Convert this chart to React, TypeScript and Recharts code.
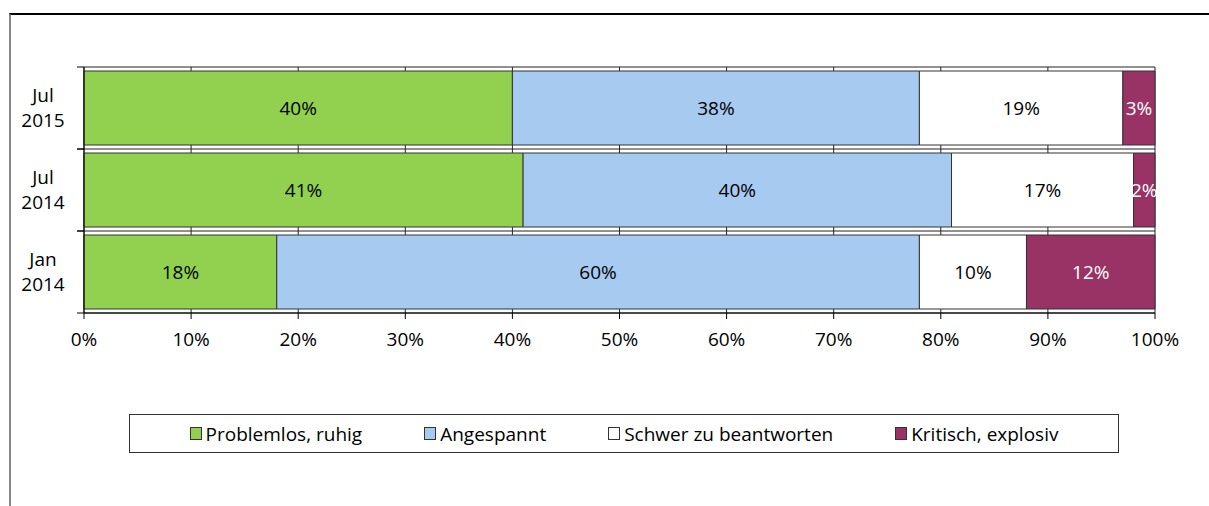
import React from 'react';
import {
  BarChart,
  Bar,
  XAxis,
  YAxis,
  CartesianGrid,
  Legend,
  LabelList,
} from 'recharts';

const categories = ['Jul 2015', 'Jul 2014', 'Jan 2014'];
const problemlos = [40, 41, 18];
const angespannt = [38, 40, 60];
const schwer = [19, 17, 10];
const kritisch = [3, 2, 12];
const xTicks = [0, 10, 20, 30, 40, 50, 60, 70, 80, 90, 100];

const series = [
  { key: 'problemlos', name: 'Problemlos, ruhig', fill: '#92D050', label: '#000' },
  { key: 'angespannt', name: 'Angespannt', fill: '#A6CAF0', label: '#000' },
  { key: 'schwer', name: 'Schwer zu beantworten', fill: '#FFFFFF', label: '#000' },
  { key: 'kritisch', name: 'Kritisch, explosiv', fill: '#993366', label: '#FFF' },
];

const data = categories.map((category, i) => ({
  category,
  problemlos: problemlos[i],
  angespannt: angespannt[i],
  schwer: schwer[i],
  kritisch: kritisch[i],
}));

const FONT = "'Open Sans', sans-serif";
const FS = 19;
const WIDTH = 1209;
const HEIGHT = 506;
const MARGIN = { top: 67, right: 54, left: 0, bottom: 53 };
const Y_AXIS_W = 84;
const X_AXIS_H = 101;
const LEGEND_H = 39;
const PLOT_LEFT = MARGIN.left + Y_AXIS_W;
const PLOT_H = HEIGHT - MARGIN.top - MARGIN.bottom - LEGEND_H - X_AXIS_H;
const BAND = PLOT_H / categories.length;

const CategoryTick = (props: any) => {
  const { y, payload } = props;
  const [line1, line2] = String(payload.value).split(' ');
  const cx = PLOT_LEFT / 2 + 1;
  return (
    <g>
      <line x1={PLOT_LEFT - 7} x2={PLOT_LEFT} y1={y - BAND / 2} y2={y - BAND / 2} stroke="#000" />
      <line x1={PLOT_LEFT - 7} x2={PLOT_LEFT} y1={y + BAND / 2} y2={y + BAND / 2} stroke="#000" />
      <text x={cx} y={y - 6} textAnchor="middle" fontSize={FS} fontFamily={FONT} fill="#000">
        {line1}
      </text>
      <text x={cx} y={y + 19} textAnchor="middle" fontSize={FS} fontFamily={FONT} fill="#000">
        {line2}
      </text>
    </g>
  );
};

const LegendBox = () => (
  <div
    style={{
      boxSizing: 'border-box',
      height: LEGEND_H,
      width: 990,
      border: '1px solid #333',
      display: 'flex',
      alignItems: 'center',
      justifyContent: 'center',
      gap: 62,
      fontFamily: FONT,
      fontSize: FS,
      color: '#000',
      background: '#fff',
    }}
  >
    {series.map((s) => (
      <div key={s.key} style={{ display: 'flex', alignItems: 'center' }}>
        <span
          style={{
            display: 'inline-block',
            width: 10,
            height: 11,
            background: s.fill,
            border: '1px solid #333',
            marginRight: 4,
          }}
        />
        <span>{s.name}</span>
      </div>
    ))}
  </div>
);

export default function App() {
  return (
    <div style={{ position: 'absolute', top: 0, left: 0, width: WIDTH, height: HEIGHT, background: '#fff' }}>
      <div
        style={{
          position: 'absolute',
          top: 13,
          left: 9,
          width: WIDTH - 9,
          height: HEIGHT - 13,
          boxSizing: 'border-box',
          borderTop: '2px solid #000',
          borderLeft: '2px solid #888',
        }}
      />
      <div style={{ position: 'absolute', top: 0, left: 0 }}>
        <BarChart
          width={WIDTH}
          height={HEIGHT}
          data={data}
          layout="vertical"
          margin={MARGIN}
          barCategoryGap={4}
          style={{ fontFamily: FONT }}
        >
          <CartesianGrid
            stroke="#222"
            horizontalCoordinatesGenerator={({ offset }: any) =>
              categories.map((_, i) => offset.top + (i * offset.height) / categories.length).concat(offset.top + offset.height)
            }
          />
          <XAxis
            type="number"
            domain={[0, 100]}
            ticks={xTicks}
            tickFormatter={(v) => `${v}%`}
            height={X_AXIS_H}
            tickSize={6}
            tickMargin={14}
            axisLine={{ stroke: '#000' }}
            tickLine={{ stroke: '#000' }}
            tick={{ fill: '#000', fontSize: FS, fontFamily: FONT }}
            interval={0}
          />
          <YAxis
            type="category"
            dataKey="category"
            width={Y_AXIS_W}
            axisLine={{ stroke: '#000' }}
            tickLine={false}
            tick={<CategoryTick />}
            interval={0}
          />
          <Legend
            verticalAlign="bottom"
            wrapperStyle={{ left: 129, width: 990 }}
            content={<LegendBox />}
          />
          {series.map((s) => (
            <Bar
              key={s.key}
              dataKey={s.key}
              name={s.name}
              stackId="a"
              fill={s.fill}
              stroke="#333"
              strokeWidth={1}
              isAnimationActive={false}
            >
              <LabelList
                dataKey={s.key}
                position="center"
                formatter={(v: any) => `${v}%`}
                fill={s.label}
                fontSize={FS}
                fontFamily={FONT}
              />
            </Bar>
          ))}
        </BarChart>
      </div>
    </div>
  );
}
